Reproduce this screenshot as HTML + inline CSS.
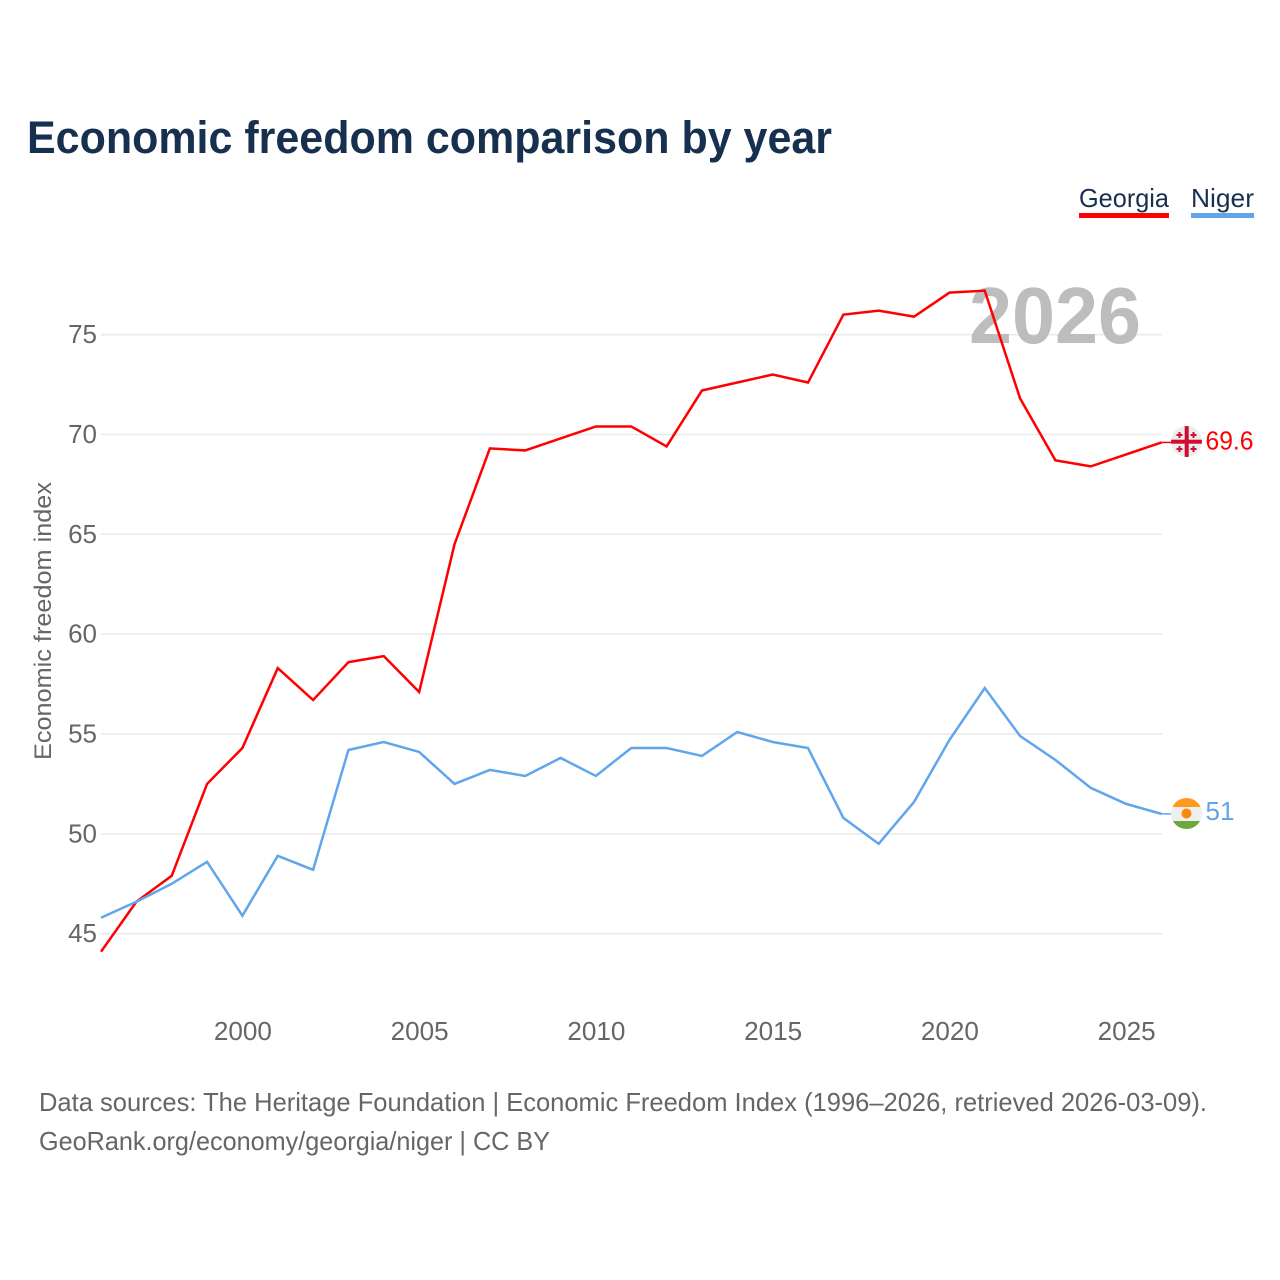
<!DOCTYPE html>
<html>
<head>
<meta charset="utf-8">
<title>Economic freedom comparison by year</title>
<style>
html,body{margin:0;padding:0;background:#fff;}
svg{display:block;font-family:"Liberation Sans",sans-serif;}
</style>
</head>
<body>
<svg id="chart" xmlns="http://www.w3.org/2000/svg" width="1280" height="1280" viewBox="0 0 1280 1280">
  <rect width="1280" height="1280" fill="#fff"/>
  <text x="27" y="153" font-size="45" font-weight="700" fill="#18304f" textLength="805" lengthAdjust="spacingAndGlyphs">Economic freedom comparison by year</text>
  <g>
    <text x="1079" y="207" font-size="26" fill="#18304f" textLength="90" lengthAdjust="spacingAndGlyphs">Georgia</text>
    <rect x="1079" y="213" width="90" height="5" fill="#ff0000"/>
  </g>
  <g>
    <text x="1191" y="207" font-size="26" fill="#18304f" textLength="63" lengthAdjust="spacingAndGlyphs">Niger</text>
    <rect x="1191" y="213" width="63" height="5" fill="#61a5ec"/>
  </g>
  <g id="grid"></g>
  <g id="yticks"></g>
  <g id="xticks"></g>
  <text transform="translate(51,621) rotate(-90)" text-anchor="middle" font-size="24" fill="#666" textLength="278" lengthAdjust="spacingAndGlyphs">Economic freedom index</text>
  <text x="1141" y="343" text-anchor="end" font-size="80" font-weight="700" fill="#bdbdbd" textLength="172" lengthAdjust="spacingAndGlyphs">2026</text>
  <g id="series"></g>
  <defs>
    <clipPath id="flag-clip-georgia"><circle cx="1186.500" cy="441.500" r="15.500"/></clipPath>
    <clipPath id="flag-clip-niger"><circle cx="1186.500" cy="813.500" r="15.500"/></clipPath>
  </defs>
  <g id="flag-georgia" clip-path="url(#flag-clip-georgia)">
    <rect x="1170" y="425" width="33" height="33" fill="#ececec"/>
    <rect x="1184.700" y="425" width="4" height="33" fill="#d00c33"/>
    <rect x="1170" y="439.700" width="33" height="4" fill="#d00c33"/>
    <g fill="#d00c33">
      <rect x="1178.500" y="432" width="2" height="6"/><rect x="1176.500" y="434" width="6" height="2"/>
      <rect x="1192.500" y="432" width="2" height="6"/><rect x="1190.500" y="434" width="6" height="2"/>
      <rect x="1178.500" y="446" width="2" height="6"/><rect x="1176.500" y="448" width="6" height="2"/>
      <rect x="1192.500" y="446" width="2" height="6"/><rect x="1190.500" y="448" width="6" height="2"/>
    </g>
  </g>
  <g id="flag-niger" clip-path="url(#flag-clip-niger)">
    <rect x="1170" y="797" width="33" height="10" fill="#ff9a1f"/>
    <rect x="1170" y="807" width="33" height="14" fill="#eeeeee"/>
    <rect x="1170" y="821" width="33" height="10" fill="#6da83f"/>
    <circle cx="1186.500" cy="813.500" r="5" fill="#f58a0c"/>
  </g>
  <g id="endlabels"></g>
  <text x="39" y="1111" font-size="26" fill="#666" textLength="1168" lengthAdjust="spacingAndGlyphs">Data sources: The Heritage Foundation | Economic Freedom Index (1996–2026, retrieved 2026-03-09).</text>
  <text x="39" y="1150" font-size="26" fill="#666" textLength="511" lengthAdjust="spacingAndGlyphs">GeoRank.org/economy/georgia/niger | CC BY</text>
</svg>
<script>
const years = [1996,1997,1998,1999,2000,2001,2002,2003,2004,2005,2006,2007,2008,2009,2010,2011,2012,2013,2014,2015,2016,2017,2018,2019,2020,2021,2022,2023,2024,2025,2026];
const georgiaValues = [44.1,46.6,47.9,52.5,54.3,58.3,56.7,58.6,58.9,57.1,64.5,69.3,69.2,69.8,70.4,70.4,69.4,72.2,72.6,73,72.6,76,76.2,75.9,77.1,77.2,71.8,68.7,68.4,69,69.6];
const nigerValues = [45.8,46.6,47.5,48.6,45.9,48.9,48.2,54.2,54.6,54.1,52.5,53.2,52.9,53.8,52.9,54.3,54.3,53.9,55.1,54.6,54.3,50.8,49.5,51.6,54.7,57.3,54.9,53.7,52.3,51.5,51];
const yTickLabels = [45,50,55,60,65,70,75];
const xTickLabels = [2000,2005,2010,2015,2020,2025];

const NS = 'http://www.w3.org/2000/svg';
const xScale = function (year) { return 101 + (year - 1996) * (1161.5 - 101) / 30; };
const yScale = function (value) { return 933.7 - (value - 45) * 19.97; };

function make(tag, parent, attrs, text) {
  const el = document.createElementNS(NS, tag);
  Object.keys(attrs).forEach(function (k) { el.setAttribute(k, attrs[k]); });
  if (text !== undefined) { el.textContent = text; }
  parent.appendChild(el);
  return el;
}

const gridGroup = document.getElementById('grid');
const yTickGroup = document.getElementById('yticks');
yTickLabels.forEach(function (tick) {
  const y = yScale(tick);
  const line = make('line', gridGroup, { x1: 101, x2: 1162, y1: y, y2: y, stroke: '#e9e9e9', 'stroke-width': 1.5 });
  
  
  const label = make('text', yTickGroup, { x: 97, y: y + 8.5, 'text-anchor': 'end', 'font-size': 26, fill: '#666' }, String(tick));
  
  
});

const xTickGroup = document.getElementById('xticks');
xTickLabels.forEach(function (tick) {
  const label = make('text', xTickGroup, { x: xScale(tick) + 0.5, y: 1040, 'text-anchor': 'middle', 'font-size': 26, fill: '#666', textLength: 58, lengthAdjust: 'spacingAndGlyphs' }, String(tick));
  
  
});

function toPoints(values) {
  return values.map(function (v, i) { return xScale(years[i]).toFixed(2) + ',' + yScale(v).toFixed(2); }).join(' ');
}

const seriesGroup = document.getElementById('series');
const labelGroup = document.getElementById('endlabels');

const georgiaLine = make('polyline', seriesGroup, { points: toPoints(georgiaValues), fill: 'none', stroke: '#ff0000', 'stroke-width': 2.5, 'stroke-linejoin': 'miter' });



const nigerLine = make('polyline', seriesGroup, { points: toPoints(nigerValues), fill: 'none', stroke: '#61a5ec', 'stroke-width': 2.5, 'stroke-linejoin': 'miter' });



const lastYear = years[years.length - 1];
const georgiaLast = georgiaValues[georgiaValues.length - 1];
const nigerLast = nigerValues[nigerValues.length - 1];

const georgiaConnector = make('line', seriesGroup, { x1: xScale(lastYear), x2: xScale(lastYear) + 10, y1: yScale(georgiaLast), y2: yScale(georgiaLast), stroke: '#ff0000', 'stroke-width': 1.5 });



const nigerConnector = make('line', seriesGroup, { x1: xScale(lastYear), x2: xScale(lastYear) + 10, y1: yScale(nigerLast), y2: yScale(nigerLast), stroke: '#61a5ec', 'stroke-width': 1.5 });



const georgiaLabel = make('text', labelGroup, { x: 1205.5, y: yScale(georgiaLast) + 7, 'font-size': 26, fill: '#ff0000', textLength: 48, lengthAdjust: 'spacingAndGlyphs' }, String(georgiaLast));



const nigerLabel = make('text', labelGroup, { x: 1205.5, y: yScale(nigerLast) + 6, 'font-size': 26, fill: '#61a5ec', textLength: 29, lengthAdjust: 'spacingAndGlyphs' }, String(nigerLast));


</script>
</body>
</html>
